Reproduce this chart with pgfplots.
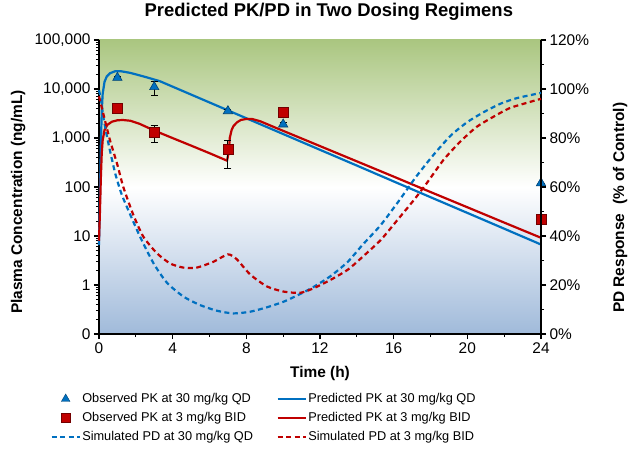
\documentclass[border=0pt]{standalone}
\usepackage{fontspec}
\setmainfont{Liberation Sans}
\usepackage{pgfplots}
\pgfplotsset{compat=1.18}
\definecolor{pkblue}{RGB}{0,112,192}
\definecolor{pkred}{RGB}{192,0,0}
\definecolor{bggreen}{RGB}{170,198,128}
\definecolor{bgblue}{RGB}{160,186,218}
\newcommand{\tickfont}{\fontsize{15.5}{18}\selectfont}
\pgfplotsset{
  common/.style={
    width=442bp, height=294bp, scale only axis,
    at={(0,0)}, anchor=south west,
    xmin=0, xmax=24,
    axis line style={line width=2.2bp, black},
    tick style={black, line width=1.2bp},
    major tick length=5bp, minor tick length=3bp,
    tick align=outside,
    tick label style={font=\tickfont},
    /pgf/number format/assume math mode=true,
    clip=false,
  },
  legend image code/.code={\draw[mark repeat=2,mark phase=2,#1] plot coordinates {(0bp,0bp) (14bp,0bp) (28bp,0bp)};},
}
\begin{document}
\begin{tikzpicture}
\useasboundingbox (-99bp,-115bp) rectangle (531bp,334bp);
\shade[top color=bggreen, bottom color=bgblue, middle color=white] (0,0) rectangle (442bp,294bp);
\begin{axis}[common,
  ymode=log, ymin=0.1, ymax=100000,
  axis x line*=bottom, axis y line*=left,
  xtick={0,4,...,24}, minor x tick num=1,
  ytick={0.1,1,10,100,1000,10000,100000},
  minor ytick={0.2,0.3,0.4,0.5,0.6,0.7,0.8,0.9,2,3,4,5,6,7,8,9,20,30,40,50,60,70,80,90,200,300,400,500,600,700,800,900,2000,3000,4000,5000,6000,7000,8000,9000,20000,30000,40000,50000,60000,70000,80000,90000},
  yticklabels={0,1,10,100,{1,000},{10,000},{100,000}},
  legend columns=2,
  legend cell align=left,
  legend style={at={(-0.11,-0.194)}, anchor=north west, draw=none, fill=none,
    font=\fontsize{12.8}{14}\selectfont, inner sep=0pt,
    nodes={inner sep=1.5bp, text height=9.5bp, text depth=3bp},
    row sep=3.5bp,
    /tikz/every even column/.append style={column sep=22bp}},
]
% predicted PK 30 mg/kg QD
\addplot[pkblue, line width=2.2bp, forget plot] coordinates {
(0,6.5) (0.05,60) (0.1,700) (0.15,3500) (0.2,8000) (0.3,14000) (0.42,18000) (0.6,21000)
(0.87,23000) (1.2,23000) (1.68,21400) (2.2,19000) (2.59,17300) (3.3,14450)
(4,11150) (6,5310) (8,2530) (10,1205) (12,574) (14,274) (16,130) (18,62) (20,29.6) (22,14.1) (24,6.7)};
% predicted PK 3 mg/kg BID
\addplot[pkred, line width=2.2bp, forget plot] coordinates {
(0,8) (0.05,30) (0.1,150) (0.15,500) (0.2,900) (0.3,1450) (0.45,1850) (0.7,2150) (1.0,2300)
(1.3,2330) (1.7,2250) (2.2,1950) (3.0,1420) (4,995) (5,700) (6,490) (6.95,345)
(7.05,520) (7.1,1000) (7.2,1450) (7.3,1750) (7.5,2100) (7.7,2330) (8.0,2450) (8.3,2450)
(8.75,2200) (9.66,1580) (10,1400) (12,684) (14,334) (16,163) (18,79) (20,38.6) (22,18.8) (24,9.2)};
% observed PK 30 mg/kg QD
\addplot[forget plot, only marks, mark=triangle*, mark size=5.4bp, mark options={fill=pkblue, draw=pkblue!60!black, line width=0.6bp},
  error bars/.cd, y dir=both, y explicit,
  error bar style={black, line width=1bp},
  error mark options={rotate=90, mark size=3.5bp, black, line width=1bp}]
coordinates {
(1,17000) += (0,1200) -= (0,1500)
(3,11000) += (0,2900) -= (0,3500)
(7,3550) += (0,300) -= (0,300)
(10,1900) += (0,200) -= (0,200)
(24,120) += (0,0) -= (0,0)};
% observed PK 3 mg/kg BID
\addplot[forget plot, only marks, mark=square*, mark size=5bp, mark options={fill=pkred, draw=pkred!60!black, line width=0.6bp},
  error bars/.cd, y dir=both, y explicit,
  error bar style={black, line width=1bp},
  error mark options={rotate=90, mark size=3.5bp, black, line width=1bp}]
coordinates {
(1,4000) += (0,0) -= (0,0)
(3,1320) += (0,480) -= (0,500)
(7,590) += (0,320) -= (0,354)
(10,3400) += (0,700) -= (0,700)
(24,22) += (0,0) -= (0,0)};
\addlegendimage{only marks, mark=triangle*, mark size=5bp, mark options={fill=pkblue, draw=pkblue!60!black}}
\addlegendentry{Observed PK at 30 mg/kg QD}
\addlegendimage{pkblue, line width=2.2bp}
\addlegendentry{Predicted PK at 30 mg/kg QD}
\addlegendimage{only marks, mark=square*, mark size=4.5bp, mark options={fill=pkred, draw=pkred!60!black}}
\addlegendentry{Observed PK at 3 mg/kg BID}
\addlegendimage{pkred, line width=2.2bp}
\addlegendentry{Predicted PK at 3 mg/kg BID}
\addlegendimage{pkblue, line width=2.2bp, dash pattern=on 5bp off 3.5bp}
\addlegendentry{Simulated PD at 30 mg/kg QD}
\addlegendimage{pkred, line width=2.2bp, dash pattern=on 5bp off 3.5bp}
\addlegendentry{Simulated PD at 3 mg/kg BID}
\node[font=\bfseries\fontsize{18.5}{22}\selectfont] at (axis description cs:0.52,1.095) {Predicted PK/PD in Two Dosing Regimens};
\node[rotate=90, font=\bfseries\fontsize{15.5}{18}\selectfont] at (axis description cs:-0.183,0.449) {Plasma Concentration (ng/mL)};
\node[font=\bfseries\fontsize{15.5}{18}\selectfont] at (axis description cs:0.5,-0.133) {Time (h)};
\end{axis}
\begin{axis}[common,
  ymin=0, ymax=120,
  axis x line=none, axis y line*=right,
  ytick={0,20,...,120}, minor y tick num=1,
  yticklabels={0\%,20\%,40\%,60\%,80\%,100\%,120\%},
]
% simulated PD 30 mg/kg QD
\addplot[pkblue, line width=2.2bp, dash pattern=on 5bp off 3.5bp, smooth, tension=0.4] coordinates {
(0,99.5) (0.1,96) (0.25,88) (0.45,80) (0.65,73) (0.9,65) (1.23,57) (1.68,49) (2.23,39.7)
(2.95,29) (3.68,21) (4.58,15.3) (5.49,11.8) (6.4,9.5) (7.3,8.4) (8.21,9.1) (9.12,10.9)
(10.03,13.2) (10.92,16.3) (11.6,19) (12.55,23.5) (13.5,29.4) (14.3,36.3) (15.3,44.5)
(16.3,54.5) (17.2,64) (18.15,73) (19.1,81) (20.0,86.5) (20.9,90.6) (21.8,94) (22.7,96.3) (24,98.4)};
% simulated PD 3 mg/kg BID
\addplot[pkred, line width=2.2bp, dash pattern=on 5bp off 3.5bp, smooth, tension=0.4] coordinates {
(0,97) (0.1,94) (0.33,87) (0.6,79) (1.0,69) (1.32,60) (1.87,48.5) (2.41,39.7) (3.14,33)
(3.86,28.8) (4.58,27.1) (5.31,27.1) (6.22,29.5) (7.0,32.5) (7.48,30.5) (8.21,24.3) (9.12,19.4)
(10.03,17.3) (10.92,16.8) (11.6,18.5) (12.55,22) (13.5,26.2) (14.3,31.4) (15.3,38.4)
(16.2,46.5) (17.1,54.7) (17.8,61.6) (18.7,71) (19.6,78.4) (20.5,84.5) (21.4,88.6) (22.3,92.2) (23.3,94.5) (24,96)};
\node[rotate=90, font=\bfseries\fontsize{15.5}{18}\selectfont] at (axis description cs:1.179,0.429) {PD Response\ \ (\% of Control)};
\end{axis}
\end{tikzpicture}
\end{document}
